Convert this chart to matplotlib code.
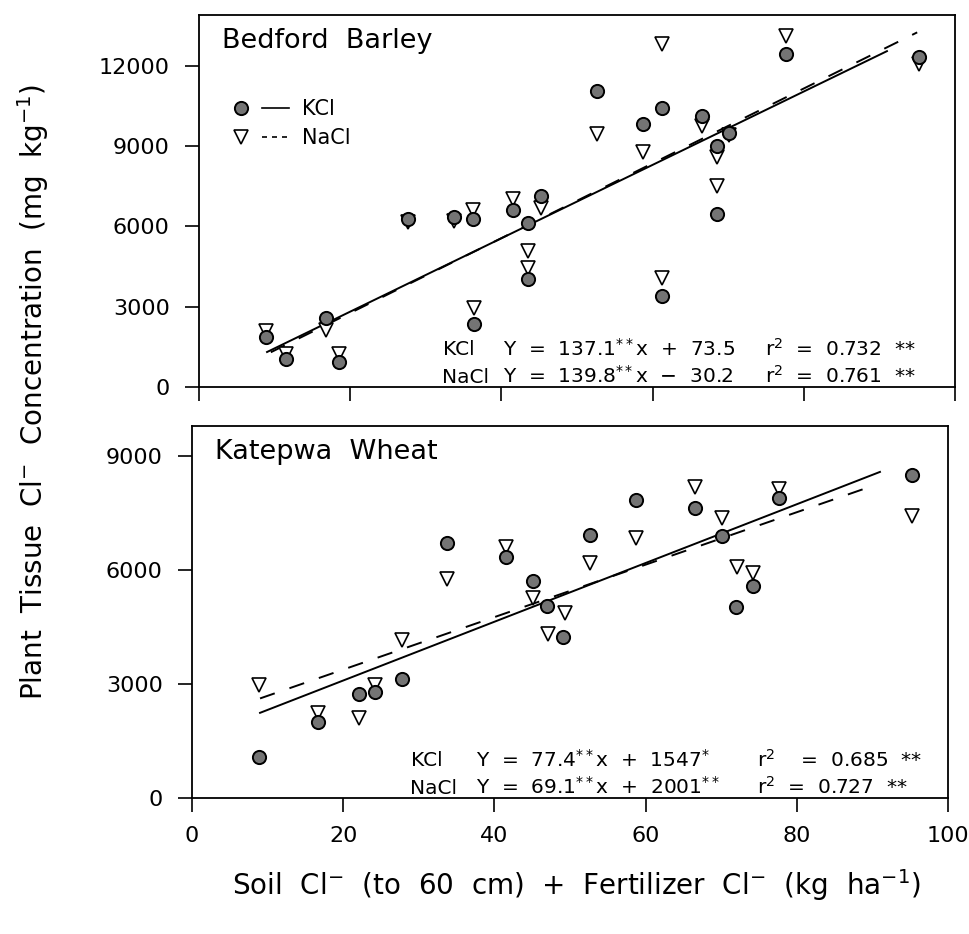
import matplotlib
matplotlib.use("Agg")
import numpy as np
import matplotlib.pyplot as plt
from matplotlib.lines import Line2D
from matplotlib.legend_handler import HandlerTuple

plt.rcParams['font.family'] = ['DejaVu Sans']
plt.rcParams['mathtext.fontset'] = 'dejavusans'

# ---- Bedford Barley (top panel) ----
barley_kcl_x = [8.9, 11.5, 16.8, 18.5, 27.7, 33.7, 36.3, 36.4, 41.6, 43.5, 43.5,
                45.2, 52.6, 58.7, 61.2, 61.3, 66.6, 68.5, 68.5, 70.1, 77.7, 95.3]
barley_kcl_y = [1860, 1050, 2580, 950, 6280, 6350, 6280, 2360, 6630, 6140, 4020,
                7120, 11060, 9820, 10430, 3390, 10110, 8990, 6480, 9490, 12430, 12330]
barley_nacl_x = [8.9, 11.5, 16.8, 18.5, 27.7, 33.7, 36.3, 36.4, 41.6, 43.5, 43.5,
                 45.2, 52.6, 58.7, 61.2, 61.3, 66.6, 68.5, 68.5, 70.1, 77.7, 95.3]
barley_nacl_y = [2110, 1250, 2140, 1250, 6150, 6200, 6610, 2960, 7010, 5090, 4430,
                 6690, 9460, 8770, 12830, 4080, 9770, 8610, 7520, 9400, 13120, 12060]

# ---- Katepwa Wheat (bottom panel) ----
wheat_kcl_x = [8.9, 16.7, 22.1, 24.2, 27.8, 33.7, 41.6, 45.1, 47.0, 49.1, 52.6,
               58.7, 66.6, 70.1, 72.0, 74.2, 77.7, 95.3]
wheat_kcl_y = [1080, 2010, 2730, 2780, 3130, 6710, 6350, 5710, 5050, 4230, 6920,
               7840, 7650, 6900, 5020, 5590, 7900, 8500]
wheat_nacl_x = [8.8, 16.7, 22.1, 24.2, 27.8, 33.7, 41.6, 45.1, 47.1, 49.3, 52.6,
                58.7, 66.6, 70.1, 72.1, 74.2, 77.7, 95.3]
wheat_nacl_y = [2970, 2250, 2110, 2990, 4150, 5780, 6620, 5270, 4310, 4880, 6190,
                6840, 8180, 7380, 6090, 5920, 8140, 7430]

# regression lines (slope, intercept) and x extent
barley_kcl_fit = (137.1, 73.5)
barley_nacl_fit = (139.8, -30.2)
barley_kcl_span = (9.0, 91.0)
barley_nacl_span = (9.5, 95.0)
wheat_kcl_fit = (77.4, 1547)
wheat_nacl_fit = (69.1, 2001)
wheat_kcl_span = (9.0, 91.0)
wheat_nacl_span = (9.0, 90.0)

x_ticks = [0, 20, 40, 60, 80, 100]
barley_yticks = [0, 3000, 6000, 9000, 12000]
wheat_yticks = [0, 3000, 6000, 9000]

CIRCLE_FC = '#747474'
TICK_FS = 16
EQ_FS = 14.5


def draw_panel(ax, kx, ky, nx, ny, kfit, nfit, kspan, nspan, ylim, yticks, title):
    # regression lines
    xs = np.array(kspan)
    ax.plot(xs, kfit[0] * xs + kfit[1], color='black', lw=1.4, zorder=2)
    xs = np.array(nspan)
    ax.plot(xs, nfit[0] * xs + nfit[1], color='black', lw=1.4,
            dashes=(8, 8), zorder=2)
    # points
    ax.plot(nx, ny, 'v', ms=10, mfc='white', mec='black', mew=1.2,
            ls='none', zorder=3)
    ax.plot(kx, ky, 'o', ms=9.5, mfc=CIRCLE_FC, mec='black', mew=1.4,
            ls='none', zorder=4)

    ax.set_xlim(0, 100)
    ax.set_ylim(*ylim)
    ax.set_xticks(x_ticks)
    ax.set_yticks(yticks)
    ax.tick_params(direction='out', length=10, width=1.2, labelsize=TICK_FS)
    ax.tick_params(axis='y', pad=11)
    ax.tick_params(axis='x', pad=10)
    for sp in ax.spines.values():
        sp.set_linewidth(1.3)
    ax.text(0.03, 0.965, title, transform=ax.transAxes, fontsize=19.5,
            ha='left', va='top')


fig = plt.figure(figsize=(9.69, 9.34), dpi=100)
ax1 = fig.add_axes([199 / 969, 1 - 387 / 934, 756 / 969, 372 / 934])
ax2 = fig.add_axes([192 / 969, 1 - 798 / 934, 756 / 969, 372 / 934])

draw_panel(ax1, barley_kcl_x, barley_kcl_y, barley_nacl_x, barley_nacl_y,
           barley_kcl_fit, barley_nacl_fit, barley_kcl_span, barley_nacl_span,
           (0, 13900), barley_yticks, 'Bedford  Barley')
ax1.tick_params(axis='x', labelbottom=False)

draw_panel(ax2, wheat_kcl_x, wheat_kcl_y, wheat_nacl_x, wheat_nacl_y,
           wheat_kcl_fit, wheat_nacl_fit, wheat_kcl_span, wheat_nacl_span,
           (0, 9800), wheat_yticks, 'Katepwa  Wheat')

# equations, top panel
t1 = ax1.get_xaxis_transform()
ax1.text(32.3, 0.085, 'KCl', transform=t1, fontsize=EQ_FS)
ax1.text(40.2, 0.085, r'Y  =  137.1$^{**}$x  +  73.5', transform=t1, fontsize=EQ_FS)
ax1.text(74.9, 0.085, r'r$^{2}$  =  0.732  **', transform=t1, fontsize=EQ_FS)
ax1.text(32.2, 0.012, 'NaCl', transform=t1, fontsize=EQ_FS)
ax1.text(40.2, 0.012, r'Y  =  139.8$^{**}$x  −  30.2', transform=t1, fontsize=EQ_FS)
ax1.text(74.9, 0.012, r'r$^{2}$  =  0.761  **', transform=t1, fontsize=EQ_FS)

# equations, bottom panel
t2 = ax2.get_xaxis_transform()
ax2.text(29.0, 0.085, 'KCl', transform=t2, fontsize=EQ_FS)
ax2.text(37.6, 0.085, r'Y  =  77.4$^{**}$x  +  1547$^{*}$', transform=t2, fontsize=EQ_FS)
ax2.text(74.7, 0.085, r'r$^{2}$    =  0.685  **', transform=t2, fontsize=EQ_FS)
ax2.text(28.9, 0.012, 'NaCl', transform=t2, fontsize=EQ_FS)
ax2.text(37.6, 0.012, r'Y  =  69.1$^{**}$x  +  2001$^{**}$', transform=t2, fontsize=EQ_FS)
ax2.text(74.7, 0.012, r'r$^{2}$  =  0.727  **', transform=t2, fontsize=EQ_FS)

# legend (top panel): marker + line side by side
kcl_pt = Line2D([], [], marker='o', ms=9.5, mfc=CIRCLE_FC, mec='black', mew=1.4, ls='none')
kcl_ln = Line2D([], [], color='black', lw=1.2)
nacl_pt = Line2D([], [], marker='v', ms=10, mfc='white', mec='black', mew=1.2, ls='none')
nacl_ln = Line2D([], [], color='black', lw=1.2, dashes=(3, 3))
ax1.legend([(kcl_pt, kcl_ln), (nacl_pt, nacl_ln)], ['KCl', 'NaCl'],
           handler_map={tuple: HandlerTuple(ndivide=None, pad=0.4)},
           loc='upper left', bbox_to_anchor=(0.026, 0.797), frameon=False,
           fontsize=15, handlelength=3.0, handletextpad=0.6, labelspacing=0.45,
           borderaxespad=0)

fig.text(0.034, 0.58, r'Plant  Tissue  Cl$^{-}$  Concentration  (mg  kg$^{-1}$)',
         rotation=90, ha='center', va='center', fontsize=20)
fig.text(0.595, 0.052,
         r'Soil  Cl$^{-}$  (to  60  cm)  +  Fertilizer  Cl$^{-}$  (kg  ha$^{-1}$)',
         ha='center', va='center', fontsize=20)

fig.savefig('out.png', dpi=100)
